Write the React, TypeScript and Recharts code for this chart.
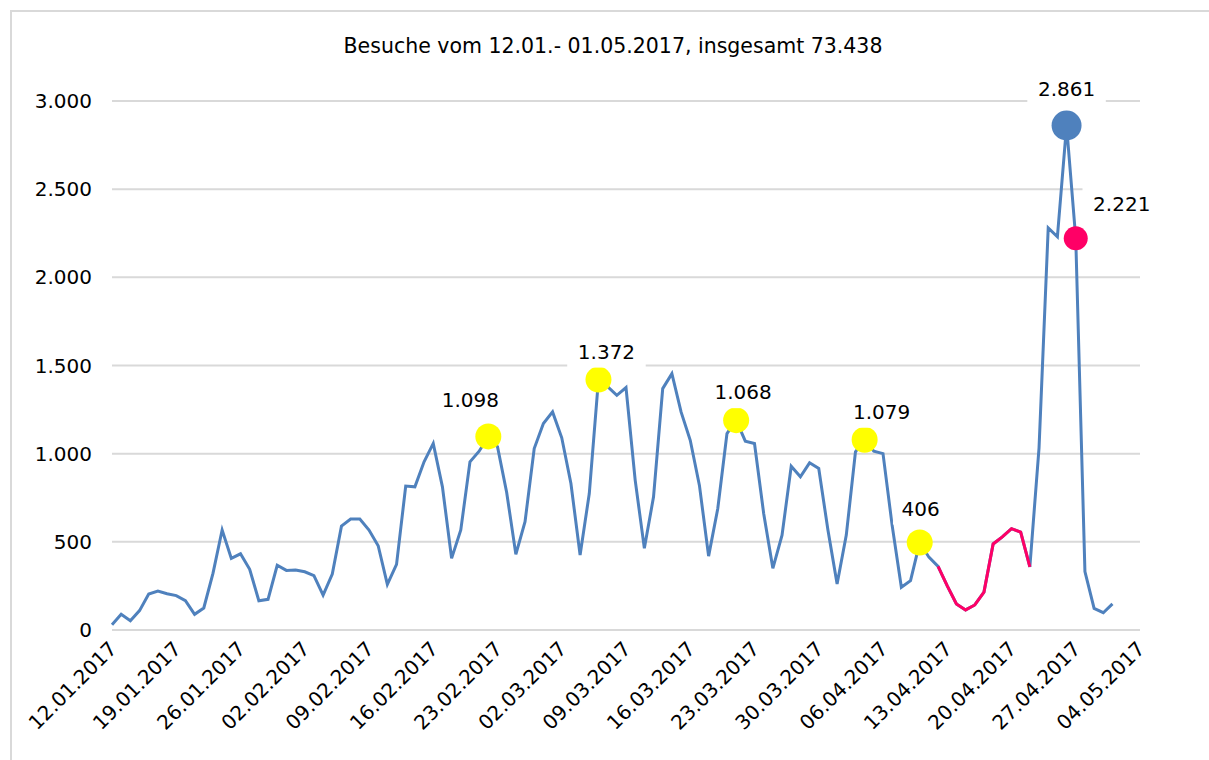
import React from 'react';
import { ComposedChart, Line, XAxis, YAxis, CartesianGrid } from 'recharts';

// daily visits 12.01.2017 - 01.05.2017
const VISITS = [
  30, 89, 53, 110, 204, 221, 206, 195, 166, 89,
  125, 321, 567, 406, 432, 344, 166, 174, 367, 338,
  340, 330, 308, 198, 317, 589, 629, 629, 567, 478,
  259, 372, 816, 812, 954, 1058, 812, 406, 567, 954,
  1014, 1098, 1039, 780, 429, 614, 1029, 1171, 1237, 1090,
  831, 425, 774, 1420, 1380, 1331, 1375, 850, 463, 755,
  1369, 1454, 1237, 1076, 820, 419, 689, 1114, 1190, 1071,
  1058, 661, 350, 538, 929, 869, 948, 916, 567, 261,
  538, 1010, 1079, 1014, 1000, 592, 242, 280, 496, 413,
  361, 250, 148, 114, 142, 215, 488, 528, 575, 555,
  358, 1033, 2280, 2230, 2861, 2221, 331, 122, 98, 148,
];

const DATE_LABELS = [
  '12.01.2017', '19.01.2017', '26.01.2017', '02.02.2017', '09.02.2017', '16.02.2017',
  '23.02.2017', '02.03.2017', '09.03.2017', '16.03.2017', '23.03.2017', '30.03.2017',
  '06.04.2017', '13.04.2017', '20.04.2017', '27.04.2017', '04.05.2017',
];
const Y_TICKS = [0, 500, 1000, 1500, 2000, 2500, 3000];

// red stretch of the line (first and last day index)
const RED_RANGE = [90, 100];

const MARKER_DAYS = [41, 53, 68, 82, 88, 104, 105];
const MARKER_LABELS = ['1.098', '1.372', '1.068', '1.079', '406', '2.861', '2.221'];
const MARKER_KINDS = ['peak', 'peak', 'peak', 'peak', 'peak', 'max', 'last'];

const FONT = 'DejaVu Sans';
const BLUE = '#4F81BD';
const RED = '#FF0066';

const MARKER_STYLE: Record<string, { fill: string; r: number }> = {
  peak: { fill: '#FFFF00', r: 13 },
  max: { fill: BLUE, r: 15 },
  last: { fill: RED, r: 12 },
};
// label centre relative to marker centre
const LABEL_OFFSETS = [[-18, -37], [8, -28], [7, -28], [17, -28], [1, -34], [0, -37], [46, -35]];

const data = VISITS.map((v, i) => {
  const m = MARKER_DAYS.indexOf(i);
  return {
    day: i,
    visits: v,
    red: i >= RED_RANGE[0] && i <= RED_RANGE[1] ? v : null,
    mark: m >= 0 ? v : null,
    markIdx: m,
  };
});

const fmt = (v: number) => String(v).replace(/\B(?=(\d{3})+(?!\d))/g, '.');

const DateTick = (props: any) => {
  const { x, y, payload } = props;
  const px = x + 6;
  const py = y + 20;
  return (
    <text x={px} y={py} transform={`rotate(-45, ${px}, ${py})`} textAnchor="end"
      fontSize={20} fontFamily={FONT} fill="#000">
      {DATE_LABELS[Math.round(payload.value / 7)]}
    </text>
  );
};

const renderMarker = (props: any) => {
  const { cx, cy, payload, index } = props;
  if (cy == null || payload.markIdx < 0) return <g key={`m${index}`} />;
  const s = MARKER_STYLE[MARKER_KINDS[payload.markIdx]];
  return <circle key={`m${index}`} cx={cx} cy={cy} r={s.r} fill={s.fill} />;
};

const renderLabel = (props: any) => {
  const { cx, cy, payload, index } = props;
  if (cy == null || payload.markIdx < 0) return <g key={`l${index}`} />;
  const [dx, dy] = LABEL_OFFSETS[payload.markIdx];
  const text = MARKER_LABELS[payload.markIdx];
  const w = text.length * 11.5 + 21;
  const lx = cx + dx;
  const ly = cy + dy;
  return (
    <g key={`l${index}`}>
      <rect x={lx - w / 2} y={ly - 16} width={w} height={32} fill="#fff" />
      <text x={lx} y={ly} dy="0.36em" textAnchor="middle" fontSize={20} fontFamily={FONT} fill="#000">
        {text}
      </text>
    </g>
  );
};

export default function App() {
  return (
    <div style={{ position: 'absolute', left: 0, top: 0, width: 1209, height: 760, overflow: 'hidden', background: '#fff' }}>
      <div style={{ position: 'absolute', left: 10, top: 10, width: 1300, height: 800, borderLeft: '2px solid #D9D9D9', borderTop: '2px solid #D9D9D9' }} />
      <div style={{ position: 'absolute', left: 0, top: 33, width: 1226, textAlign: 'center', fontFamily: FONT, fontSize: 20.5, lineHeight: '26px', color: '#000' }}>
        Besuche vom 12.01.- 01.05.2017, insgesamt 73.438
      </div>
      <div style={{ position: 'absolute', left: 0, top: 0 }}>
        <ComposedChart width={1209} height={760} data={data} margin={{ top: 101, right: 69, bottom: 0, left: 0 }}>
          <CartesianGrid vertical={false} stroke="#D9D9D9" strokeWidth={2} />
          <XAxis dataKey="day" type="number" domain={[0, 112]} ticks={DATE_LABELS.map((_, i) => i * 7)}
            height={130} axisLine={false} tickLine={false} tickSize={0} tickMargin={0}
            tick={<DateTick />} interval={0} />
          <YAxis domain={[0, 3000]} ticks={Y_TICKS} width={112} axisLine={false} tickLine={false}
            tickSize={0} tickMargin={20} tickFormatter={fmt}
            tick={{ fill: '#000', fontSize: 20, fontFamily: FONT }} />
          <Line type="linear" dataKey="visits" stroke={BLUE} strokeWidth={3} dot={false} activeDot={false} isAnimationActive={false} />
          <Line type="linear" dataKey="red" stroke={RED} strokeWidth={3} dot={false} activeDot={false} connectNulls={false} isAnimationActive={false} />
          <Line type="linear" dataKey="mark" stroke="none" dot={renderMarker} activeDot={false} isAnimationActive={false} />
          <Line type="linear" dataKey="mark" stroke="none" dot={renderLabel} activeDot={false} isAnimationActive={false} />
        </ComposedChart>
      </div>
    </div>
  );
}
